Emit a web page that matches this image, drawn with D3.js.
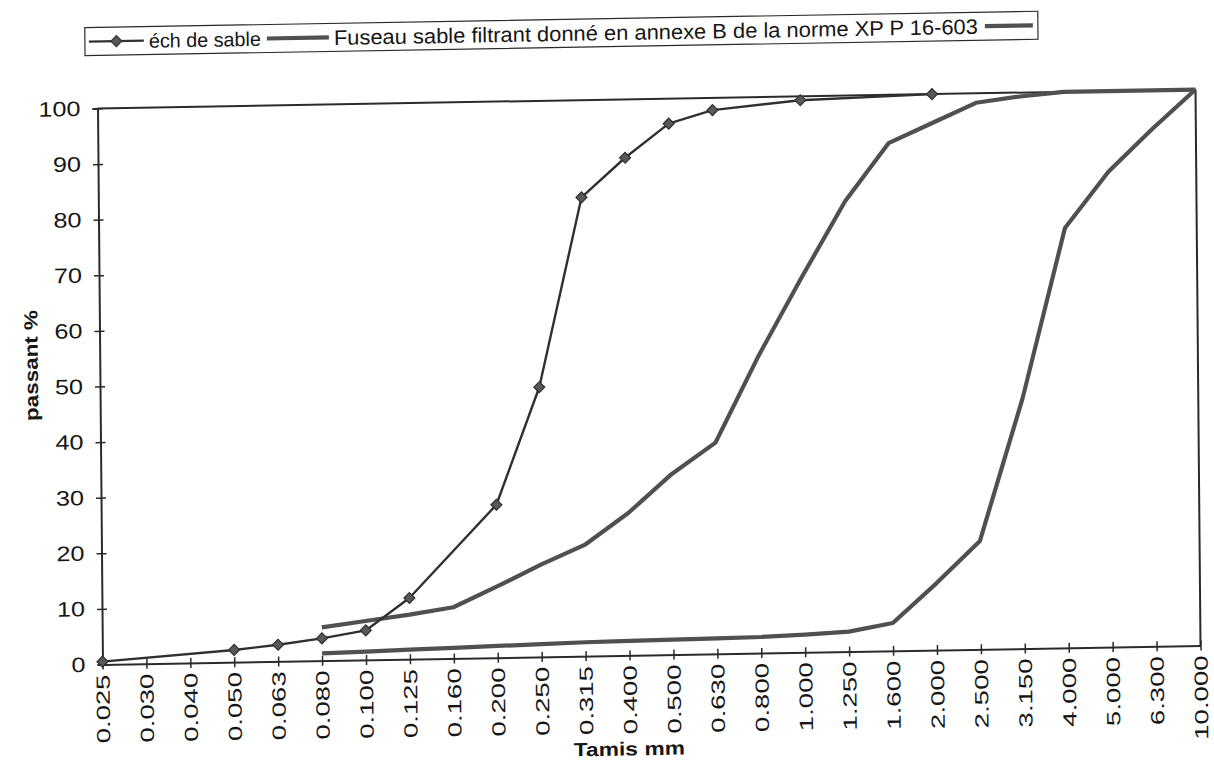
<!DOCTYPE html>
<html>
<head>
<meta charset="utf-8">
<script src="https://cdn.jsdelivr.net/npm/d3@7"></script>
<style>
  body { margin: 0; background: #ffffff; }
  svg { display: block; }
  text { font-family: "Liberation Sans", Arial, sans-serif; fill: #161616; }
</style>
</head>
<body>
<svg id="chart" width="1214" height="762"></svg>
<script>
// ---------- data ----------
const categories = ["0.025","0.030","0.040","0.050","0.063","0.080","0.100","0.125","0.160","0.200",
                    "0.250","0.315","0.400","0.500","0.630","0.800","1.000","1.250","1.600","2.000",
                    "2.500","3.150","4.000","5.000","6.300","10.000"];
const echValues = [0.5, null, null, 2.2, 3.0, 4.0, 5.3, 11.0, null, 27.5,
                   48.5, 82.5, 89.5, 95.5, 97.8, null, 99.3, null, null, 100,
                   null, null, null, null, null, null];
const fuseauCoarse = [null, null, null, null, null, 6.0, 7.0, 8.0, 9.2, 12.8,
                      16.6, 20.0, 25.6, 32.5, 38.0, 53.5, 67.5, 81.0, 91.3, 94.8,
                      98.3, 99.3, 100, 100, 100, 100];
const fuseauFine = [null, null, null, null, null, 1.3, 1.5, 1.7, 1.9, 2.1,
                    2.3, 2.5, 2.6, 2.7, 2.8, 2.9, 3.2, 3.6, 5.0, 12.0,
                    19.5, 45.0, 75.5, 85.5, 93.0, 100];
const yTicks = [0, 10, 20, 30, 40, 50, 60, 70, 80, 90, 100];
const legendLabels = ["éch de sable", "Fuseau sable filtrant donné en annexe B de la norme XP P 16-603", ""];
const xTitle = "Tamis mm";
const yTitle = "passant %";

// ---------- layout ----------
const W = 1214, H = 762;
const plot = { left: 100, right: 1198, top: 99, bottom: 655 };
const cx = (plot.left + plot.right) / 2, cy = 377;
// the scanned page is slightly skewed: right side higher, top slightly to the left
const k = -0.0172, s = 0.009;

const svg = d3.select("#chart");
svg.append("rect").attr("width", W).attr("height", H).attr("fill", "#ffffff");
const g = svg.append("g")
  .attr("transform", `matrix(1,${k},${s},1,${-s * cy},${-k * cx})`);

const x = d3.scalePoint().domain(categories).range([plot.left, plot.right]);
const y = d3.scaleLinear().domain([0, 100]).range([plot.bottom, plot.top]);

function stretch(sel, factor) {
  sel.each(function () {
    const len = this.getComputedTextLength();
    if (len > 0) {
      d3.select(this).attr("textLength", len * factor).attr("lengthAdjust", "spacingAndGlyphs");
    }
  });
}

const ink = "#2a2a2a";
const font = '"Liberation Sans", Arial, sans-serif';

// plot frame (top and right)
g.append("line").attr("x1", plot.left).attr("x2", plot.right).attr("y1", y(100)).attr("y2", y(100))
  .attr("stroke", ink).attr("stroke-width", 2);
g.append("line").attr("x1", plot.right).attr("x2", plot.right).attr("y1", y(100)).attr("y2", y(0))
  .attr("stroke", ink).attr("stroke-width", 2);

// y axis
const yAxis = g.append("g").attr("transform", `translate(${plot.left},0)`)
  .call(d3.axisLeft(y).tickValues(yTicks).tickSize(5).tickPadding(12).tickFormat(d3.format("d")));
yAxis.select(".domain").attr("stroke", ink).attr("stroke-width", 2);
yAxis.selectAll(".tick line").attr("stroke", ink).attr("stroke-width", 1.5).attr("x1", 5).attr("x2", -5);
yAxis.selectAll(".tick text").attr("font-size", 21).attr("fill", "#161616").style("font-family", font);
stretch(yAxis.selectAll(".tick text"), 1.2);

// x axis
const xAxis = g.append("g").attr("transform", `translate(0,${plot.bottom})`)
  .call(d3.axisBottom(x).tickSize(5).tickSizeOuter(0));
xAxis.select(".domain").attr("stroke", ink).attr("stroke-width", 2);
xAxis.selectAll(".tick line").attr("stroke", ink).attr("stroke-width", 1.5).attr("y1", -5).attr("y2", 5);
xAxis.selectAll(".tick text")
  .attr("font-size", 19).attr("fill", "#161616").style("font-family", font)
  .attr("text-anchor", "end")
  .attr("transform", "rotate(-90)")
  .attr("x", -10).attr("y", 0).attr("dy", "0.34em");
stretch(xAxis.selectAll(".tick text"), 1.45);

// axis titles
const yT = g.append("text").attr("transform", `translate(38,355) rotate(-90)`)
  .attr("text-anchor", "middle").attr("font-size", 19).attr("font-weight", "bold").text(yTitle);
stretch(yT, 1.18);
const xT = g.append("text").attr("x", 626).attr("y", 755)
  .attr("text-anchor", "middle").attr("font-size", 19).attr("font-weight", "bold").text(xTitle);
stretch(xT, 1.2);

// series lines
function series(values) {
  return categories.map((c, i) => ({ c, v: values[i] })).filter(d => d.v !== null);
}
const line = d3.line().x(d => x(d.c)).y(d => y(d.v));

const seriesGrey = "#505050";
g.append("path").datum(series(fuseauCoarse)).attr("d", line)
  .attr("fill", "none").attr("stroke", seriesGrey).attr("stroke-width", 4.2).attr("stroke-linejoin", "round");
g.append("path").datum(series(fuseauFine)).attr("d", line)
  .attr("fill", "none").attr("stroke", seriesGrey).attr("stroke-width", 4.2).attr("stroke-linejoin", "round");
g.append("path").datum(series(echValues)).attr("d", line)
  .attr("fill", "none").attr("stroke", "#303030").attr("stroke-width", 2.4).attr("stroke-linejoin", "round");

const diamond = d3.symbol().type(d3.symbolSquare).size(60);
g.selectAll(".mk").data(series(echValues)).enter().append("path")
  .attr("class", "mk")
  .attr("transform", d => `translate(${x(d.c)},${y(d.v)}) rotate(45)`)
  .attr("d", diamond)
  .attr("fill", "#585858").attr("stroke", "#303030").attr("stroke-width", 1.2);

// legend
const leg = g.append("g");
leg.append("rect").attr("x", 88).attr("y", 18).attr("width", 953).attr("height", 28)
  .attr("fill", "none").attr("stroke", ink).attr("stroke-width", 1.2);
const ly = 32;
const legFont = '"Liberation Sans Narrow", "Liberation Sans", Arial, sans-serif';
leg.append("line").attr("x1", 92).attr("x2", 147).attr("y1", ly).attr("y2", ly)
  .attr("stroke", "#303030").attr("stroke-width", 2.4);
leg.append("path").attr("transform", `translate(119.5,${ly}) rotate(45)`).attr("d", diamond)
  .attr("fill", "#585858").attr("stroke", "#303030").attr("stroke-width", 1.2);
leg.append("text").attr("x", 152).attr("y", ly).attr("dy", "0.36em")
  .attr("font-size", 20).style("font-family", legFont).text(legendLabels[0])
  .attr("textLength", 112).attr("lengthAdjust", "spacingAndGlyphs");
leg.append("line").attr("x1", 270).attr("x2", 332).attr("y1", ly).attr("y2", ly)
  .attr("stroke", seriesGrey).attr("stroke-width", 4.2);
leg.append("text").attr("x", 337).attr("y", ly).attr("dy", "0.36em")
  .attr("font-size", 21).style("font-family", legFont).text(legendLabels[1])
  .attr("textLength", 644).attr("lengthAdjust", "spacingAndGlyphs");
leg.append("line").attr("x1", 988).attr("x2", 1036).attr("y1", ly).attr("y2", ly)
  .attr("stroke", seriesGrey).attr("stroke-width", 4.2);
leg.append("text").attr("x", 1038).attr("y", ly).attr("font-size", 17).text(legendLabels[2]);
</script>
</body>
</html>
